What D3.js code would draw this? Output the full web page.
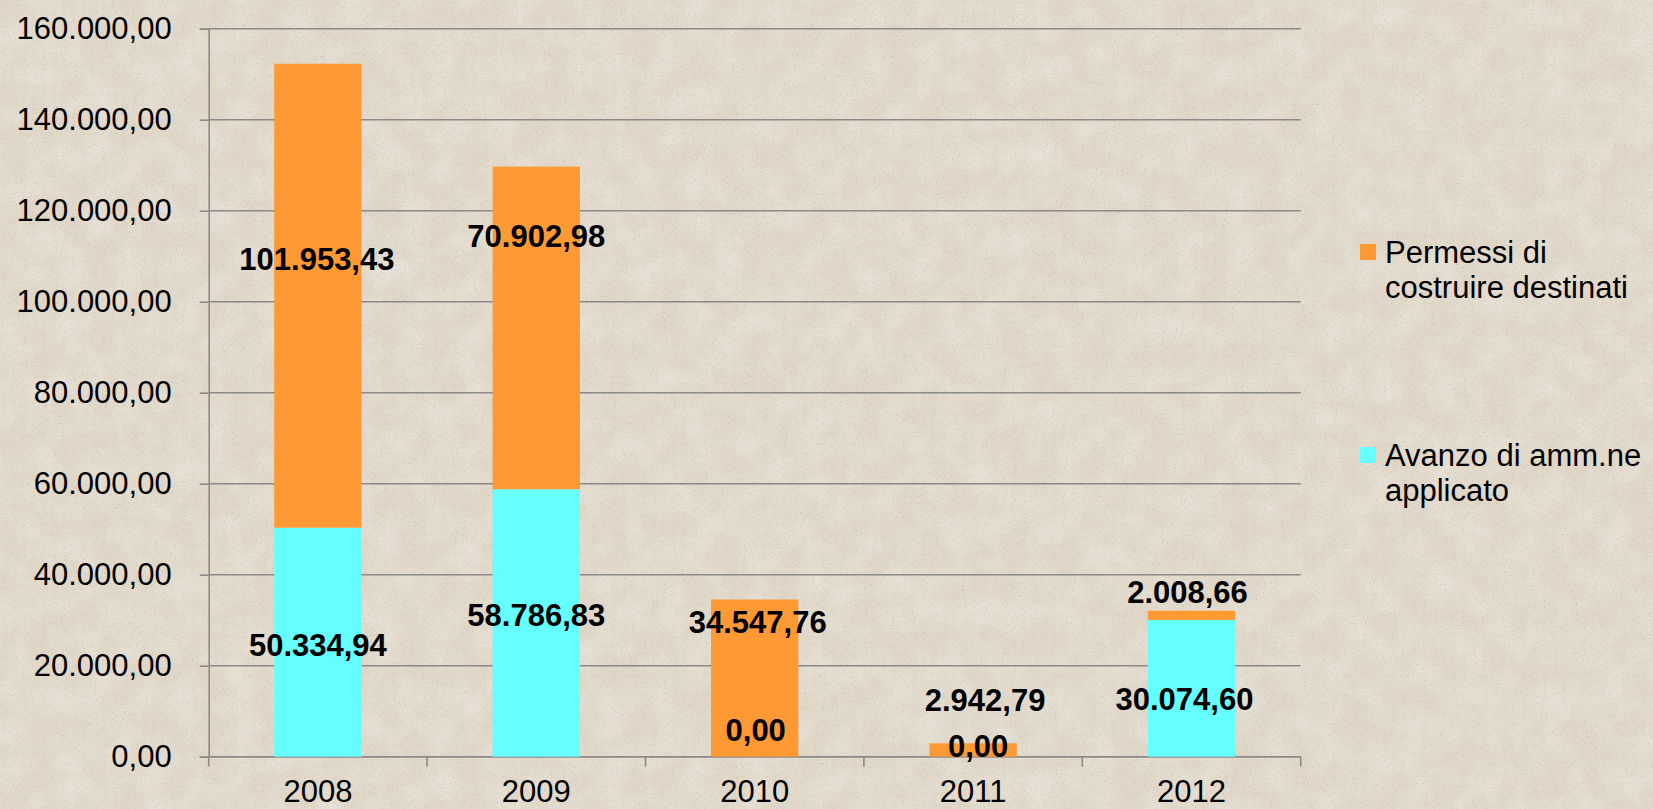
<!DOCTYPE html>
<html>
<head>
<meta charset="utf-8">
<script src="https://cdn.jsdelivr.net/npm/d3@7"></script>
<style>
  html, body { margin: 0; padding: 0; overflow: hidden; }
  body { width: 1653px; height: 809px; }
  text { font-family: "Liberation Sans", Arial, sans-serif; }
</style>
</head>
<body>
<div id="chart"></div>
<script>
// data
var years = ["2008", "2009", "2010", "2011", "2012"];
var avanzo = [50334.94, 58786.83, 0, 0, 30074.60];
var permessi = [101953.43, 70902.98, 34547.76, 2942.79, 2008.66];
var yTicks = [0, 20000, 40000, 60000, 80000, 100000, 120000, 140000, 160000];
var seriesNames = ["Permessi di costruire destinati", "Avanzo di amm.ne applicato"];

// label nudges (px) as placed by hand in the original
var avanzoLabelDx = [0, 0, 1, 5, -7];
var avanzoLabelDy = [3, -8, -27, -11, 11];
var permessiLabelDx = [-1, 0, 3, 12, -4];
var permessiLabelDy = [-37, -92, -56, -50, -23];

var W = 1653, H = 809;
var margin = {top: 28.7, right: 352.3, bottom: 52.3, left: 208.7},
    width = W - margin.left - margin.right,
    height = H - margin.top - margin.bottom;

var itFmt = d3.formatLocale({decimal: ",", thousands: ".", grouping: [3], currency: ["", "€"]}).format(",.2f");

var root = d3.select("#chart")
  .append("svg")
    .attr("width", W)
    .attr("height", H);

// paper texture background
var defs = root.append("defs");
var f = defs.append("filter").attr("id", "paper")
  .attr("x", 0).attr("y", 0).attr("width", "100%").attr("height", "100%");
f.append("feTurbulence").attr("type", "fractalNoise").attr("baseFrequency", 0.9)
  .attr("numOctaves", 2).attr("seed", 4).attr("result", "fine");
f.append("feColorMatrix").attr("in", "fine").attr("type", "matrix")
  .attr("values", "0 0 0 0 0.50  0 0 0 0 0.46  0 0 0 0 0.40  -2.4 0 0 0 1.05")
  .attr("result", "specks");
f.append("feTurbulence").attr("type", "fractalNoise").attr("baseFrequency", 0.035)
  .attr("numOctaves", 2).attr("seed", 9).attr("result", "coarse");
f.append("feColorMatrix").attr("in", "coarse").attr("type", "matrix")
  .attr("values", "0 0 0 0 0.95  0 0 0 0 0.93  0 0 0 0 0.89  0.6 0 0 0 -0.22")
  .attr("result", "blotch");
f.append("feFlood").attr("flood-color", "#e1d8c9").attr("result", "base");
f.append("feComposite").attr("in", "blotch").attr("in2", "base").attr("operator", "over").attr("result", "b1");
f.append("feComposite").attr("in", "specks").attr("in2", "b1").attr("operator", "over");

root.append("rect")
  .attr("width", W).attr("height", H)
  .attr("fill", "#e1d8c9")
  .attr("filter", "url(#paper)");

var svg = root.append("g")
  .attr("transform", "translate(" + margin.left + "," + margin.top + ")");

// scales
var x = d3.scaleBand()
  .domain(years)
  .range([0, width])
  .paddingInner(0.6)
  .paddingOuter(0.3);

var y = d3.scaleLinear()
  .domain([0, 160000])
  .range([height, 0]);

var gridColor = "#8a8a8a";

// gridlines
svg.append("g")
  .selectAll("line")
  .data(yTicks)
  .enter()
  .append("line")
    .attr("x1", 0)
    .attr("x2", width)
    .attr("y1", function(d) { return y(d); })
    .attr("y2", function(d) { return y(d); })
    .attr("stroke", gridColor)
    .attr("stroke-width", 1.6);

// Y axis
var yAxis = svg.append("g")
  .call(d3.axisLeft(y).tickValues(yTicks).tickSize(9).tickPadding(28).tickFormat(itFmt));
yAxis.select(".domain").attr("stroke", gridColor).attr("stroke-width", 1.6);
yAxis.selectAll(".tick line").attr("stroke", gridColor).attr("stroke-width", 1.6);
yAxis.selectAll("text")
  .attr("fill", "#000")
  .style("font-size", "31px")
  .style("font-family", "'Liberation Sans', Arial, sans-serif");

// X axis: line and ticks on category borders
svg.append("line")
  .attr("x1", 0).attr("x2", width)
  .attr("y1", height).attr("y2", height)
  .attr("stroke", gridColor).attr("stroke-width", 1.6);
svg.append("g")
  .selectAll("line")
  .data(d3.range(years.length + 1))
  .enter()
  .append("line")
    .attr("x1", function(i) { return i * x.step(); })
    .attr("x2", function(i) { return i * x.step(); })
    .attr("y1", height)
    .attr("y2", height + 10)
    .attr("stroke", gridColor)
    .attr("stroke-width", 1.6);

svg.append("g")
  .selectAll("text")
  .data(years)
  .enter()
  .append("text")
    .attr("x", function(d) { return x(d) + x.bandwidth() / 2; })
    .attr("y", height + 45)
    .attr("text-anchor", "middle")
    .style("font-size", "31px")
    .attr("fill", "#000")
    .text(function(d) { return d; });

var orange = "#ff9933", cyan = "#66ffff";

// stacked bars
var rows = years.map(function(yr, i) {
  return {year: yr, avanzo: avanzo[i], permessi: permessi[i], i: i};
});

svg.append("g")
  .selectAll("rect")
  .data(rows)
  .enter()
  .append("rect")
    .attr("x", function(d) { return x(d.year); })
    .attr("width", x.bandwidth())
    .attr("y", function(d) { return y(d.avanzo); })
    .attr("height", function(d) { return y(0) - y(d.avanzo); })
    .attr("fill", cyan);

svg.append("g")
  .selectAll("rect")
  .data(rows)
  .enter()
  .append("rect")
    .attr("x", function(d) { return x(d.year); })
    .attr("width", x.bandwidth())
    .attr("y", function(d) { return y(d.avanzo + d.permessi); })
    .attr("height", function(d) { return y(d.avanzo) - y(d.avanzo + d.permessi); })
    .attr("fill", orange);

// value labels
var lbl = svg.append("g")
  .style("font-size", "31px")
  .style("font-weight", "bold")
  .attr("text-anchor", "middle")
  .attr("fill", "#000");

lbl.selectAll(".la")
  .data(rows)
  .enter()
  .append("text")
    .attr("class", "la")
    .attr("x", function(d) { return x(d.year) + x.bandwidth() / 2 + avanzoLabelDx[d.i]; })
    .attr("y", function(d) { return y(d.avanzo / 2) + avanzoLabelDy[d.i]; })
    .attr("dy", "0.35em")
    .text(function(d) { return itFmt(d.avanzo); });

lbl.selectAll(".lp")
  .data(rows)
  .enter()
  .append("text")
    .attr("class", "lp")
    .attr("x", function(d) { return x(d.year) + x.bandwidth() / 2 + permessiLabelDx[d.i]; })
    .attr("y", function(d) { return y(d.avanzo + d.permessi / 2) + permessiLabelDy[d.i]; })
    .attr("dy", "0.35em")
    .text(function(d) { return itFmt(d.permessi); });

// legend
var legendLines = [["Permessi di", "costruire destinati"], ["Avanzo di amm.ne", "applicato"]];
var legendColors = [orange, cyan];
var legend = root.append("g").attr("transform", "translate(1360,244)");
var items = legend.selectAll("g")
  .data(seriesNames)
  .enter()
  .append("g")
    .attr("transform", function(d, i) { return "translate(0," + (i * 203) + ")"; });
items.append("rect")
  .attr("width", 16).attr("height", 16)
  .attr("fill", function(d, i) { return legendColors[i]; });
items.each(function(d, i) {
  var t = d3.select(this).append("text")
    .attr("x", 25)
    .attr("y", 19)
    .style("font-size", "31px")
    .attr("fill", "#000");
  legendLines[i].forEach(function(line, k) {
    t.append("tspan").attr("x", 25).attr("dy", k === 0 ? 0 : 35).text(line);
  });
});
</script>
</body>
</html>
